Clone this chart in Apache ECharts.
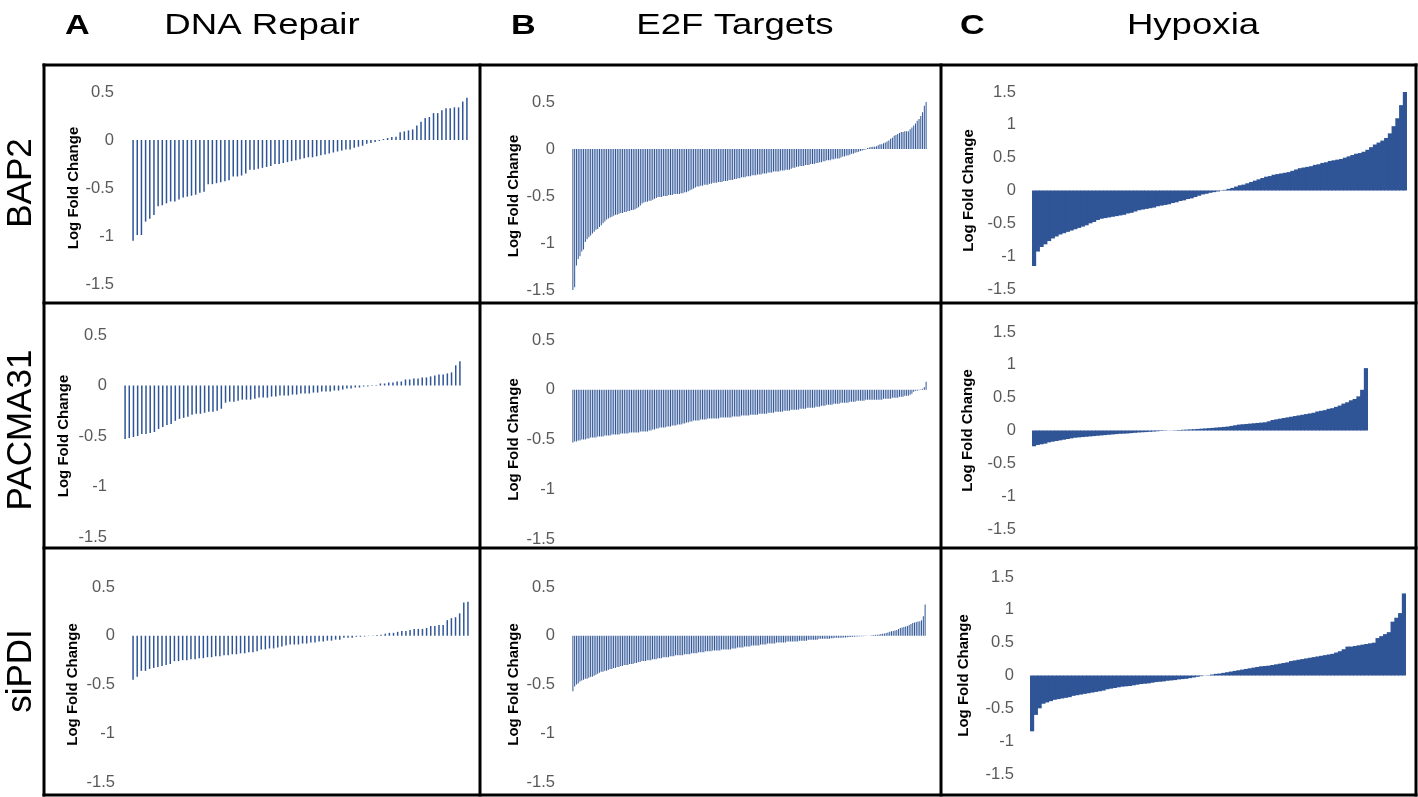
<!DOCTYPE html>
<html><head><meta charset="utf-8">
<script src="https://cdn.jsdelivr.net/npm/echarts@6/dist/echarts.min.js"></script>
<style>html,body{margin:0;padding:0;background:#fff}#c{width:1418px;height:797px}</style>
</head><body><div id="c"></div>
<script>
// ---------- text ----------
const columnLetters = ['A', 'B', 'C'];
const columnTitles = ['DNA Repair', 'E2F Targets', 'Hypoxia'];
const rowLabels = ['BAP2', 'PACMA31', 'siPDI'];
const yAxisTitle = 'Log Fold Change';

// ---------- y-axis ticks ----------
const tickStep = 0.5;
const yMinAB = -1.5, yMaxAB = 0.5;   // DNA Repair & E2F columns
const yMinC = -1.5, yMaxC = 1.5;     // Hypoxia column

// ---------- data (sorted log fold changes) ----------
const dnaRepairBAP2 = [-1.05,-0.99,-0.99,-0.85,-0.82,-0.78,-0.69,-0.68,-0.66,-0.64,
-0.64,-0.62,-0.60,-0.59,-0.58,-0.57,-0.55,-0.54,-0.46,-0.46,
-0.45,-0.44,-0.43,-0.42,-0.38,-0.38,-0.37,-0.35,-0.31,-0.31,
-0.30,-0.29,-0.28,-0.27,-0.25,-0.25,-0.24,-0.23,-0.22,-0.21,
-0.20,-0.19,-0.18,-0.18,-0.17,-0.16,-0.15,-0.14,-0.13,-0.12,
-0.11,-0.10,-0.10,-0.08,-0.07,-0.06,-0.04,-0.03,-0.02,-0.01,
0.01,0.02,0.03,0.035,0.08,0.09,0.10,0.11,0.15,0.19,
0.23,0.24,0.28,0.28,0.31,0.33,0.33,0.34,0.34,0.40,0.44];

const dnaRepairPACMA31 = [-0.53,-0.52,-0.51,-0.50,-0.48,-0.48,-0.47,-0.46,-0.43,-0.41,
-0.39,-0.38,-0.35,-0.33,-0.32,-0.31,-0.29,-0.28,-0.28,-0.27,
-0.26,-0.26,-0.25,-0.23,-0.17,-0.16,-0.16,-0.15,-0.14,-0.14,
-0.14,-0.13,-0.12,-0.12,-0.12,-0.11,-0.11,-0.10,-0.10,-0.10,
-0.09,-0.09,-0.08,-0.08,-0.08,-0.07,-0.07,-0.06,-0.06,-0.06,
-0.05,-0.05,-0.04,-0.03,-0.03,-0.02,-0.02,-0.01,-0.01,-0.005,
0.005,0.02,0.02,0.03,0.03,0.04,0.04,0.06,0.06,0.07,
0.07,0.08,0.08,0.09,0.10,0.11,0.11,0.12,0.13,0.20,0.24];

const dnaRepairSiPDI = [-0.45,-0.42,-0.36,-0.36,-0.34,-0.33,-0.32,-0.31,-0.30,-0.29,
-0.26,-0.26,-0.25,-0.25,-0.24,-0.24,-0.23,-0.23,-0.22,-0.22,
-0.21,-0.21,-0.20,-0.20,-0.19,-0.19,-0.18,-0.18,-0.17,-0.17,
-0.16,-0.14,-0.14,-0.13,-0.13,-0.12,-0.11,-0.10,-0.09,-0.09,
-0.09,-0.08,-0.08,-0.07,-0.07,-0.06,-0.06,-0.05,-0.05,-0.04,
-0.04,-0.02,-0.02,-0.02,-0.01,-0.01,-0.007,-0.003,
0.003,0.007,0.01,0.02,0.03,0.03,0.04,0.05,0.05,0.06,
0.07,0.07,0.07,0.08,0.10,0.10,0.11,0.11,0.16,0.18,0.19,0.23,0.34,0.35];

const e2fBAP2 = [-1.51,-1.47,-1.24,-1.17,-1.14,-1.09,-1.07,-0.99,-0.96,-0.94,
-0.92,-0.90,-0.88,-0.86,-0.85,-0.83,-0.81,-0.79,-0.77,-0.75,
-0.74,-0.73,-0.72,-0.71,-0.70,-0.70,-0.69,-0.68,-0.68,-0.67,
-0.67,-0.66,-0.66,-0.65,-0.65,-0.64,-0.63,-0.62,-0.60,-0.58,
-0.57,-0.56,-0.56,-0.55,-0.55,-0.54,-0.53,-0.52,-0.51,-0.51,
-0.51,-0.50,-0.50,-0.50,-0.49,-0.49,-0.49,-0.48,-0.48,-0.48,
-0.48,-0.47,-0.47,-0.46,-0.46,-0.45,-0.44,-0.43,-0.42,-0.41,
-0.40,-0.40,-0.39,-0.39,-0.38,-0.38,-0.38,-0.37,-0.37,-0.36,
-0.36,-0.36,-0.35,-0.35,-0.35,-0.34,-0.34,-0.34,-0.33,-0.33,
-0.33,-0.32,-0.32,-0.31,-0.31,-0.30,-0.30,-0.30,-0.29,-0.29,
-0.29,-0.28,-0.28,-0.28,-0.27,-0.27,-0.27,-0.26,-0.26,-0.26,
-0.25,-0.25,-0.25,-0.24,-0.24,-0.24,-0.24,-0.23,-0.23,-0.23,
-0.22,-0.22,-0.22,-0.21,-0.20,-0.20,-0.19,-0.19,-0.18,-0.18,
-0.18,-0.17,-0.17,-0.17,-0.16,-0.16,-0.16,-0.15,-0.15,-0.14,
-0.14,-0.13,-0.13,-0.12,-0.12,-0.12,-0.11,-0.11,-0.10,-0.10,
-0.10,-0.09,-0.08,-0.08,-0.07,-0.07,-0.06,-0.05,-0.05,-0.04,
-0.035,-0.03,-0.02,-0.015,-0.01,-0.005,0.01,0.015,0.02,0.025,
0.025,0.03,0.04,0.05,0.05,0.06,0.07,0.08,0.09,0.11,
0.12,0.14,0.15,0.16,0.17,0.18,0.18,0.19,0.19,0.19,
0.21,0.23,0.25,0.27,0.30,0.32,0.35,0.39,0.46,0.51];

const e2fPACMA31 = [-0.53,-0.52,-0.52,-0.51,-0.51,-0.50,-0.50,-0.50,-0.49,-0.49,
-0.48,-0.48,-0.48,-0.48,-0.47,-0.47,-0.47,-0.47,-0.46,-0.46,
-0.46,-0.46,-0.45,-0.45,-0.45,-0.45,-0.45,-0.44,-0.44,-0.44,
-0.44,-0.44,-0.43,-0.43,-0.43,-0.43,-0.43,-0.43,-0.42,-0.42,
-0.42,-0.42,-0.42,-0.41,-0.41,-0.40,-0.40,-0.39,-0.39,-0.38,
-0.38,-0.38,-0.38,-0.37,-0.37,-0.37,-0.36,-0.36,-0.36,-0.35,
-0.35,-0.35,-0.34,-0.34,-0.33,-0.33,-0.32,-0.32,-0.31,-0.31,
-0.31,-0.31,-0.30,-0.30,-0.30,-0.30,-0.29,-0.29,-0.29,-0.29,
-0.29,-0.29,-0.29,-0.28,-0.28,-0.28,-0.28,-0.28,-0.28,-0.28,
-0.27,-0.27,-0.27,-0.27,-0.27,-0.26,-0.26,-0.26,-0.26,-0.26,
-0.25,-0.25,-0.25,-0.25,-0.25,-0.24,-0.24,-0.24,-0.24,-0.24,
-0.23,-0.23,-0.23,-0.23,-0.22,-0.22,-0.22,-0.22,-0.22,-0.21,
-0.21,-0.21,-0.21,-0.20,-0.20,-0.20,-0.20,-0.20,-0.19,-0.19,
-0.19,-0.19,-0.18,-0.18,-0.18,-0.18,-0.18,-0.17,-0.17,-0.17,
-0.16,-0.16,-0.16,-0.15,-0.15,-0.15,-0.15,-0.14,-0.14,-0.14,
-0.14,-0.13,-0.13,-0.13,-0.13,-0.13,-0.12,-0.12,-0.12,-0.12,
-0.11,-0.11,-0.11,-0.11,-0.11,-0.10,-0.10,-0.10,-0.10,-0.10,
-0.10,-0.10,-0.10,-0.10,-0.10,-0.09,-0.09,-0.09,-0.09,-0.09,
-0.08,-0.08,-0.08,-0.08,-0.07,-0.07,-0.07,-0.06,-0.06,-0.06,
-0.05,-0.04,-0.02,-0.01,-0.01,-0.005,0.005,0.01,0.025,0.08];

const e2fSiPDI = [-0.57,-0.52,-0.50,-0.49,-0.47,-0.46,-0.45,-0.44,-0.44,-0.43,
-0.42,-0.42,-0.41,-0.40,-0.39,-0.38,-0.37,-0.37,-0.36,-0.36,
-0.35,-0.34,-0.34,-0.33,-0.33,-0.32,-0.32,-0.31,-0.31,-0.30,
-0.30,-0.30,-0.29,-0.29,-0.29,-0.28,-0.28,-0.27,-0.27,-0.26,
-0.26,-0.26,-0.25,-0.25,-0.25,-0.24,-0.24,-0.24,-0.23,-0.23,
-0.23,-0.22,-0.22,-0.22,-0.22,-0.21,-0.21,-0.21,-0.20,-0.20,
-0.20,-0.20,-0.20,-0.19,-0.19,-0.19,-0.19,-0.18,-0.18,-0.18,
-0.18,-0.17,-0.17,-0.17,-0.17,-0.16,-0.16,-0.16,-0.16,-0.15,
-0.15,-0.15,-0.15,-0.15,-0.14,-0.14,-0.14,-0.14,-0.14,-0.14,
-0.13,-0.13,-0.13,-0.12,-0.12,-0.12,-0.12,-0.11,-0.11,-0.11,
-0.11,-0.10,-0.10,-0.10,-0.10,-0.10,-0.09,-0.09,-0.09,-0.09,
-0.08,-0.08,-0.08,-0.08,-0.08,-0.07,-0.07,-0.07,-0.07,-0.07,
-0.07,-0.06,-0.06,-0.06,-0.06,-0.06,-0.06,-0.06,-0.05,-0.05,
-0.05,-0.05,-0.05,-0.04,-0.04,-0.04,-0.04,-0.04,-0.04,-0.03,
-0.03,-0.03,-0.03,-0.03,-0.03,-0.03,-0.025,-0.025,-0.02,-0.02,
-0.02,-0.02,-0.02,-0.018,-0.017,-0.015,-0.013,-0.012,-0.01,-0.009,
-0.008,-0.007,-0.006,-0.005,-0.004,-0.003,-0.002,-0.001,0.002,0.004,
0.007,0.009,0.011,0.014,0.017,0.02,0.024,0.028,0.033,0.04,
0.045,0.05,0.055,0.06,0.07,0.08,0.085,0.09,0.095,0.10,
0.11,0.12,0.13,0.135,0.14,0.145,0.15,0.16,0.20,0.32];

const hypoxiaBAP2 = [-1.15,-0.93,-0.86,-0.82,-0.77,-0.73,-0.70,-0.67,-0.65,-0.63,
-0.61,-0.59,-0.57,-0.55,-0.53,-0.50,-0.48,-0.45,-0.43,-0.42,
-0.41,-0.40,-0.39,-0.38,-0.37,-0.35,-0.34,-0.32,-0.30,-0.29,
-0.28,-0.27,-0.26,-0.24,-0.23,-0.22,-0.21,-0.19,-0.18,-0.16,
-0.15,-0.13,-0.12,-0.10,-0.08,-0.06,-0.05,-0.035,-0.025,-0.015,
-0.005,0.01,0.025,0.04,0.06,0.08,0.09,0.11,0.13,0.15,
0.17,0.19,0.21,0.22,0.24,0.25,0.26,0.27,0.28,0.30,
0.32,0.34,0.35,0.36,0.37,0.39,0.40,0.42,0.43,0.45,
0.46,0.47,0.48,0.50,0.52,0.54,0.56,0.57,0.59,0.62,
0.66,0.70,0.73,0.76,0.80,0.87,0.98,1.10,1.30,1.52];

const hypoxiaPACMA31 = [-0.24,-0.22,-0.21,-0.20,-0.18,-0.17,-0.16,-0.15,-0.14,-0.13,
-0.12,-0.11,-0.105,-0.10,-0.095,-0.09,-0.085,-0.08,-0.075,-0.07,
-0.065,-0.06,-0.055,-0.05,-0.048,-0.045,-0.04,-0.035,-0.03,-0.027,
-0.024,-0.02,-0.016,-0.012,-0.008,-0.005,-0.002,0.002,0.005,0.008,
0.011,0.014,0.017,0.02,0.024,0.028,0.032,0.036,0.04,0.045,
0.05,0.055,0.06,0.07,0.08,0.09,0.095,0.10,0.105,0.11,
0.115,0.12,0.125,0.14,0.16,0.17,0.18,0.19,0.20,0.21,
0.22,0.23,0.24,0.25,0.26,0.27,0.29,0.30,0.31,0.33,
0.34,0.36,0.38,0.41,0.43,0.46,0.48,0.52,0.62,0.95];

const hypoxiaSiPDI = [-0.85,-0.60,-0.50,-0.43,-0.41,-0.39,-0.37,-0.36,-0.35,-0.34,
-0.33,-0.31,-0.30,-0.29,-0.28,-0.27,-0.26,-0.25,-0.24,-0.23,
-0.21,-0.20,-0.19,-0.18,-0.17,-0.165,-0.16,-0.15,-0.14,-0.13,
-0.125,-0.12,-0.11,-0.10,-0.095,-0.09,-0.08,-0.075,-0.07,-0.06,
-0.055,-0.05,-0.04,-0.03,-0.02,-0.01,-0.002,0.005,0.015,0.025,
0.03,0.04,0.05,0.06,0.07,0.08,0.09,0.10,0.11,0.12,
0.13,0.14,0.145,0.15,0.16,0.17,0.18,0.19,0.20,0.22,
0.23,0.24,0.25,0.26,0.27,0.28,0.29,0.30,0.31,0.32,
0.33,0.35,0.37,0.40,0.44,0.44,0.45,0.46,0.47,0.48,
0.49,0.50,0.57,0.60,0.63,0.66,0.82,0.88,0.95,1.25];

// ---------- layout ----------
const BAR_COLOR = '#2F5597';
const panels = [
  {data: dnaRepairBAP2,    col: 0, x0: 131,  x1: 469,  y0: 92,  y1: 284, margin: 17, gap: 50, bw: '36%'},
  {data: e2fBAP2,          col: 1, x0: 572,  x1: 927,  y0: 102, y1: 290, margin: 17, gap: 51, bw: '50%'},
  {data: hypoxiaBAP2,      col: 2, x0: 1032, x1: 1407, y0: 92,  y1: 289, margin: 16, gap: 56, bw: 4.6},
  {data: dnaRepairPACMA31, col: 0, x0: 123,  x1: 462,  y0: 335, y1: 537, margin: 16, gap: 52, bw: '36%'},
  {data: e2fPACMA31,       col: 1, x0: 572,  x1: 927,  y0: 340, y1: 539, margin: 17, gap: 51, bw: '50%'},
  {data: hypoxiaPACMA31,   col: 2, x0: 1032, x1: 1368, y0: 332, y1: 529, margin: 16, gap: 57, bw: 4.6},
  {data: dnaRepairSiPDI,   col: 0, x0: 131,  x1: 470,  y0: 587, y1: 782, margin: 16, gap: 51, bw: '36%'},
  {data: e2fSiPDI,         col: 1, x0: 572,  x1: 926,  y0: 587, y1: 782, margin: 17, gap: 51, bw: '50%'},
  {data: hypoxiaSiPDI,     col: 2, x0: 1030, x1: 1406, y0: 577, y1: 774, margin: 16, gap: 59, bw: 4.6}
];

const FONT = '"Liberation Sans", Arial, sans-serif';
const grids = [], xAxes = [], yAxes = [], series = [];
panels.forEach((p, i) => {
  grids.push({left: p.x0, top: p.y0, width: p.x1 - p.x0, height: p.y1 - p.y0, containLabel: false});
  xAxes.push({type: 'category', gridIndex: i, data: p.data.map((_, k) => k), show: false});
  const isC = p.col === 2;
  yAxes.push({
    type: 'value', gridIndex: i,
    min: isC ? yMinC : yMinAB, max: isC ? yMaxC : yMaxAB, interval: tickStep,
    axisLine: {show: false}, axisTick: {show: false}, splitLine: {show: false},
    axisLabel: {color: '#595959', fontSize: 16.5, fontFamily: FONT, margin: p.margin},
    name: yAxisTitle, nameLocation: 'middle', nameGap: p.gap,
    nameTextStyle: {color: '#000', fontWeight: 'bold', fontSize: 15, fontFamily: FONT}
  });
  series.push({
    type: 'bar', xAxisIndex: i, yAxisIndex: i, data: p.data,
    barWidth: p.bw, itemStyle: {color: BAR_COLOR}, silent: true
  });
});

// ---------- decorations (headers, row labels, panel frame) ----------
const graphics = [];
const letterX = [65, 511, 960];
const titleCX = [262, 735, 1193];
columnLetters.forEach((t, i) => {
  graphics.push({type: 'text', x: letterX[i], y: 26, scaleX: 1.22,
    style: {text: t, font: 'bold 28px ' + FONT, fill: '#000', align: 'left', verticalAlign: 'middle', textAlign: 'left', textVerticalAlign: 'middle'}});
});
columnTitles.forEach((t, i) => {
  graphics.push({type: 'text', x: titleCX[i], y: 26, scaleX: 1.22,
    style: {text: t, font: '30px ' + FONT, fill: '#000', align: 'center', verticalAlign: 'middle', textAlign: 'center', textVerticalAlign: 'middle'}});
});
const rowCY = [183, 430, 671];
rowLabels.forEach((t, i) => {
  graphics.push({type: 'text', x: 21, y: rowCY[i], rotation: Math.PI / 2,
    style: {text: t, font: '35px ' + FONT, fill: '#000', align: 'center', verticalAlign: 'middle', textAlign: 'center', textVerticalAlign: 'middle'}});
});
const hLines = [65, 303, 548, 795];
const vLines = [44, 480, 941, 1416];
hLines.forEach(y => graphics.push({type: 'line', z: 100, shape: {x1: 42.5, y1: y, x2: 1417.5, y2: y}, style: {stroke: '#000', lineWidth: 3}}));
vLines.forEach(x => graphics.push({type: 'line', z: 100, shape: {x1: x, y1: 63.5, x2: x, y2: 796.5}, style: {stroke: '#000', lineWidth: 3}}));

const chart = echarts.init(document.getElementById('c'), null, {renderer: 'canvas'});
chart.setOption({
  animation: false,
  backgroundColor: '#fff',
  grid: grids, xAxis: xAxes, yAxis: yAxes, series: series,
  graphic: {elements: graphics}
});
</script>
</body></html>
